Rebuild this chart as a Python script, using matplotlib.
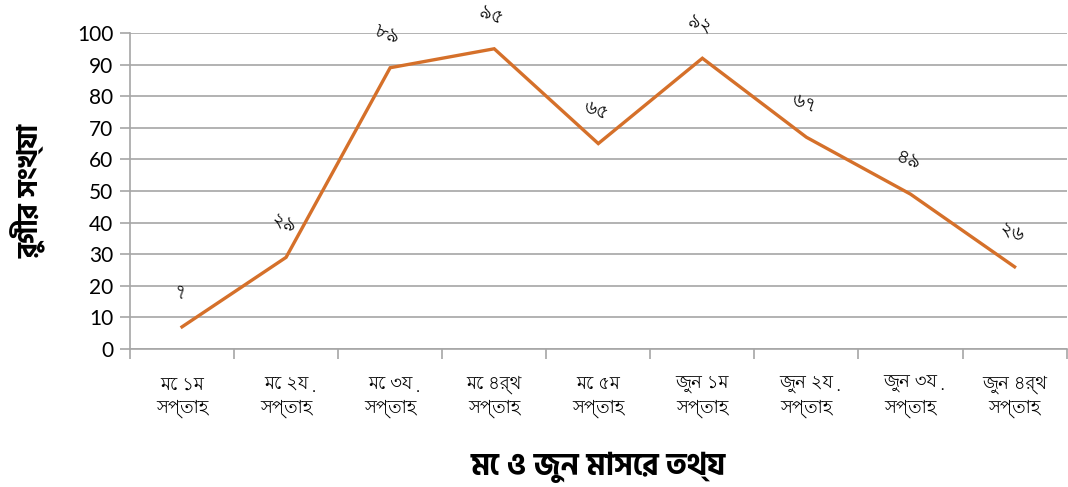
import numpy as np
import matplotlib
matplotlib.use('Agg')
import matplotlib.pyplot as plt

# weekly data (May - June)
week_labels = ['মে ১ম\nসপ্তাহ', 'মে ২য়\nসপ্তাহ', 'মে ৩য়\nসপ্তাহ', 'মে ৪র্থ\nসপ্তাহ', 'মে ৫ম\nসপ্তাহ',
               'জুন ১ম\nসপ্তাহ', 'জুন ২য়\nসপ্তাহ', 'জুন ৩য়\nসপ্তাহ', 'জুন ৪র্থ\nসপ্তাহ']
patients = [7, 29, 89, 95, 65, 92, 67, 49, 26]
value_labels = ['৭', '২৯', '৮৯', '৯৫', '৬৫', '৯২', '৬৭', '৪৯', '২৬']
y_ticks = [0, 10, 20, 30, 40, 50, 60, 70, 80, 90, 100]
x_title = 'মে ও জুন মাসের তথ্য'
y_title = 'রুগীর সংখ্যা'

bn_thin = ['Lohit Bengali', 'FreeSans', 'DejaVu Sans']
bn_bold = ['Hind Siliguri', 'Noto Sans Bengali', 'FreeSans', 'DejaVu Sans']
plt.rcParams['font.family'] = bn_thin

line_col = '#D5702A'
grid_col = '#A6A6A6'

fig = plt.figure(figsize=(10.68, 4.87), dpi=100)
ax = fig.add_axes([0.1217, 0.2834, 0.877, 0.6489])

x = np.arange(len(patients))
ax.plot(x, patients, color=line_col, lw=2.4, solid_joinstyle='miter', zorder=3)

for xi, yi, lab in zip(x, patients, value_labels):
    ax.annotate(lab, (xi, yi), xytext=(-2, 24), textcoords='offset points',
                ha='center', va='center', rotation=-20, fontsize=14, color='black')

ax.set_xlim(-0.5, len(patients) - 0.5)
ax.set_ylim(0, 100)
ax.set_yticks(y_ticks)
ax.set_yticklabels([str(v) for v in y_ticks], fontsize=15, family=['Lato', 'DejaVu Sans'])
ax.yaxis.grid(True, color=grid_col, lw=1.2)
ax.set_axisbelow(True)

ax.set_xticks(x)
ax.set_xticklabels(week_labels, fontsize=13, linespacing=1.35)
ax.tick_params(axis='x', length=0, pad=19)
ax.set_xticks(np.arange(len(patients) + 1) - 0.5, minor=True)
ax.tick_params(axis='x', which='minor', length=7, color=grid_col, width=1.2)
ax.tick_params(axis='y', length=7, color=grid_col, width=1.2, pad=5)

for s in ['top', 'right']:
    ax.spines[s].set_visible(False)
for s in ['left', 'bottom']:
    ax.spines[s].set_color(grid_col)
    ax.spines[s].set_linewidth(1.2)

ax.set_xlabel(x_title, fontsize=22, fontweight='bold', family=bn_bold, labelpad=24)
ax.set_ylabel(y_title, fontsize=20, fontweight='bold', family=bn_bold, labelpad=22)

fig.savefig('out.png', dpi=100)
